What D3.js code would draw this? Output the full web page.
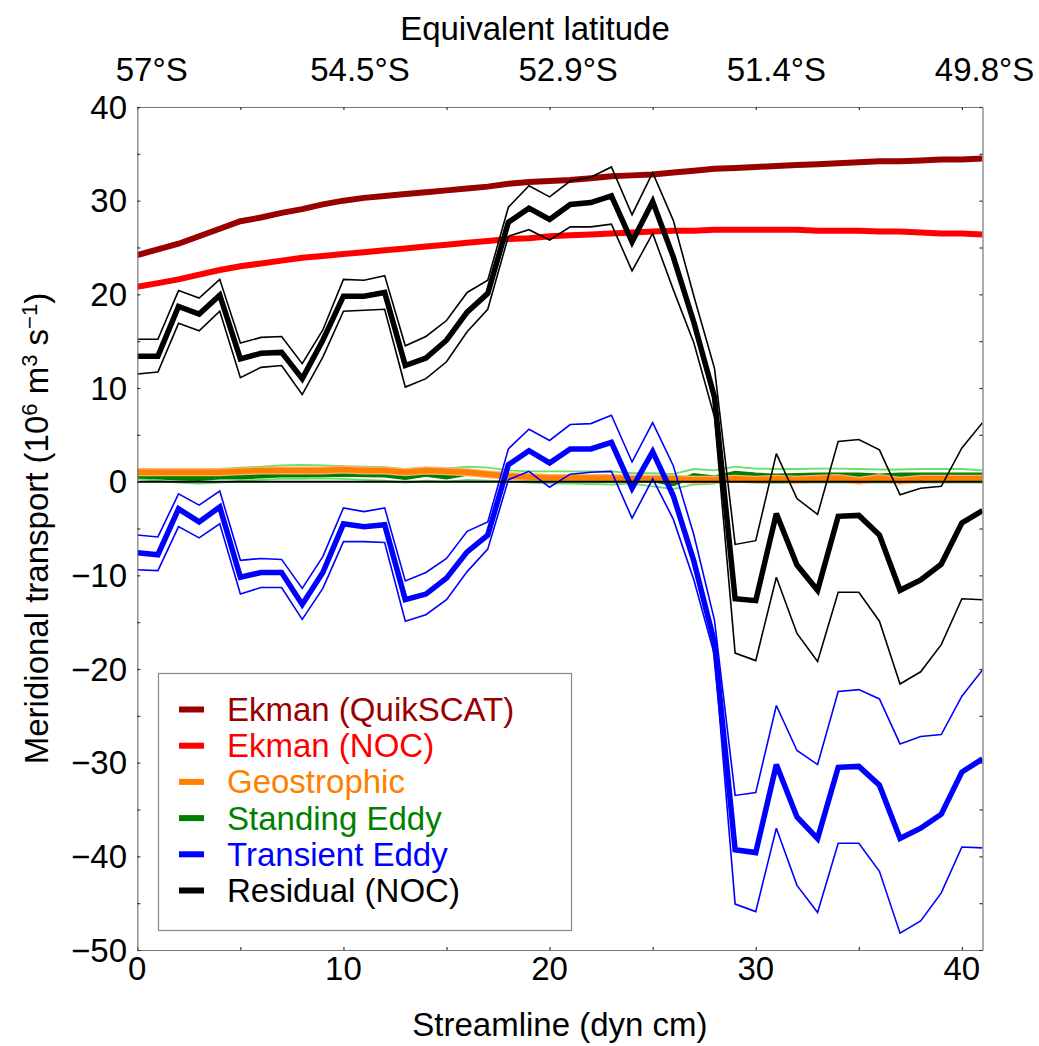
<!DOCTYPE html>
<html><head><meta charset="utf-8">
<script src="https://cdn.jsdelivr.net/npm/d3@7"></script>
<style>
body{margin:0;background:#fff;}
svg text{font-family:"Liberation Sans",Arial,Helvetica,sans-serif;}
</style></head>
<body>
<svg id="chart" width="1039" height="1046"></svg>
<script>
// ---- data (streamline index 0..41) ----
const streamline = d3.range(0, 42);
const ekmanQuikSCAT = [24.2,24.8,25.4,26.2,27.0,27.8,28.2,28.7,29.1,29.6,30.0,30.3,30.5,30.7,30.9,31.1,31.3,31.5,31.8,32.0,32.1,32.2,32.4,32.6,32.7,32.8,33.0,33.2,33.4,33.5,33.6,33.7,33.8,33.9,34.0,34.1,34.2,34.2,34.3,34.4,34.4,34.5];
const ekmanNOC = [20.8,21.2,21.6,22.1,22.6,23.0,23.3,23.6,23.9,24.1,24.3,24.5,24.7,24.9,25.1,25.3,25.5,25.7,25.9,26.0,26.2,26.3,26.4,26.5,26.6,26.7,26.8,26.8,26.9,26.9,26.9,26.9,26.9,26.8,26.8,26.8,26.7,26.7,26.6,26.5,26.5,26.4];
const geostrophic = [1.0,1.0,1.0,1.0,1.0,1.1,1.2,1.2,1.2,1.2,1.3,1.2,1.2,1.0,1.2,1.1,1.0,0.8,0.6,0.5,0.4,0.4,0.4,0.4,0.3,0.3,0.3,0.2,0.2,0.3,0.2,0.3,0.2,0.3,0.4,0.1,0.4,0.1,0.3,0.3,0.3,0.3];
const standingEddy = [0.6,0.5,0.4,0.35,0.5,0.5,0.6,0.7,0.7,0.75,0.8,0.75,0.7,0.45,0.8,0.5,0.9,0.8,0.6,0.4,0.35,0.35,0.3,0.3,0.4,0.2,-0.2,0.65,0.4,0.9,0.7,0.6,0.65,0.7,0.7,0.7,0.6,0.7,0.7,0.7,0.7,0.7];
const standingEddyHi = [1.35,1.3,1.3,1.3,1.35,1.5,1.6,1.75,1.8,1.75,1.65,1.6,1.55,1.35,1.5,1.4,1.6,1.5,1.2,1.1,1.1,1.1,1.1,1.1,0.9,0.9,0.8,1.35,1.2,1.6,1.4,1.35,1.35,1.4,1.4,1.35,1.3,1.3,1.35,1.35,1.35,1.2];
const standingEddyLo = [0.3,0.1,-0.1,-0.2,-0.1,0.1,0.2,0.3,0.3,0.35,0.3,0.2,0.1,-0.1,0.1,0.0,0.2,0.1,0.0,-0.1,-0.2,-0.2,-0.25,-0.3,-0.2,-0.5,-0.8,-0.3,-0.2,0.35,-0.1,-0.15,-0.1,-0.1,-0.1,-0.1,-0.1,-0.1,-0.1,-0.1,-0.1,-0.1];
const transientEddy = [-7.6,-7.8,-2.9,-4.3,-2.7,-10.2,-9.7,-9.7,-13.1,-9.7,-4.5,-4.8,-4.6,-12.6,-12.0,-10.3,-7.5,-5.7,1.8,3.3,2.0,3.5,3.5,4.2,-0.7,3.2,-1.5,-8.5,-17.2,-39.3,-39.6,-30.2,-35.8,-38.1,-30.5,-30.4,-32.4,-38.1,-37.0,-35.5,-31.0,-29.6];
const transientEddyHi = [-5.7,-5.9,-1.3,-2.5,-1.0,-8.4,-8.2,-8.3,-11.4,-8.0,-2.8,-3.2,-2.8,-10.6,-9.7,-8.2,-5.3,-4.3,3.5,5.6,4.4,6.1,6.2,7.1,2.1,6.3,1.7,-5.7,-14.8,-33.5,-33.2,-23.9,-28.7,-30.2,-22.4,-22.2,-23.2,-28.0,-27.2,-27.0,-22.9,-20.1];
const transientEddyLo = [-9.4,-9.5,-4.8,-6.0,-4.5,-12.0,-11.3,-11.3,-14.7,-11.4,-6.4,-6.4,-6.5,-14.9,-14.2,-12.6,-9.6,-7.2,0.2,1.1,-0.6,0.8,1.0,1.1,-3.9,0.3,-4.0,-10.5,-18.5,-45.1,-45.9,-37.0,-43.1,-46.0,-38.6,-38.6,-41.6,-48.2,-46.9,-43.9,-39.0,-39.1];
const residual = [13.4,13.4,18.7,17.9,19.9,13.1,13.7,13.8,11.0,15.1,19.8,19.8,20.2,12.4,13.2,15.1,18.1,20.1,27.7,29.2,28.0,29.6,29.8,30.5,25.6,29.9,24.0,17.0,9.0,-12.5,-12.7,-3.4,-8.9,-11.6,-3.7,-3.6,-5.7,-11.6,-10.5,-8.8,-4.4,-3.1];
const residualHi = [15.2,15.2,20.4,19.6,21.6,14.8,15.4,15.5,12.6,16.2,21.6,21.5,22.0,14.5,15.5,17.2,20.2,21.5,29.3,31.6,30.4,32.1,32.5,33.6,28.5,33.0,27.9,19.8,12.1,-6.7,-6.3,3.0,-1.8,-3.5,4.3,4.5,3.4,-1.4,-0.7,-0.5,3.6,6.3];
const residualLo = [11.5,11.7,16.9,16.1,18.2,11.1,12.2,12.4,9.3,13.3,18.2,18.3,18.4,10.1,11.0,12.8,16.0,18.4,26.2,26.9,25.8,27.2,27.2,27.5,22.5,26.5,20.5,14.8,6.9,-18.3,-19.1,-10.2,-16.2,-19.2,-11.8,-11.8,-14.9,-21.6,-20.3,-17.4,-12.5,-12.6];

const xTicks = [0, 10, 20, 30, 40];
const yTicks = [-50, -40, -30, -20, -10, 0, 10, 20, 30, 40];
const latLabels = ["57°S", "54.5°S", "52.9°S", "51.4°S", "49.8°S"];
const latAt = [0.7, 10.8, 20.9, 31.0, 41.1];

const legendNames = ["Ekman (QuikSCAT)", "Ekman (NOC)", "Geostrophic", "Standing Eddy", "Transient Eddy", "Residual (NOC)"];
const legendColors = ["#990000", "#ff0000", "#ff8000", "#008000", "#0000ff", "#000000"];

// ---- layout ----
const L = 137.3, R = 982.5, T = 107, B = 950;
const x = d3.scaleLinear().domain([0, 41]).range([L, R]);
const y = d3.scaleLinear().domain([-50, 40]).range([B, T]);
const svg = d3.select("#chart");
const FS = 33;

const line = arr => d3.line().x((d, i) => x(streamline[i])).y(d => y(d))(arr);
const plot = svg.append("g");
plot.append("defs").append("clipPath").attr("id", "clip")
  .append("rect").attr("x", L).attr("y", T).attr("width", R - L).attr("height", B - T);
const g = plot.append("g").attr("clip-path", "url(#clip)");

function draw(arr, color, w) {
  g.append("path").attr("d", line(arr)).attr("fill", "none")
    .attr("stroke", color).attr("stroke-width", w).attr("stroke-linejoin", "miter").attr("stroke-miterlimit", 3);
}
draw(standingEddyHi, "#66e066", 1.8);
draw(standingEddyLo, "#66e066", 1.8);
draw(standingEddy, "#008000", 5);
draw(geostrophic, "#ffb070", 8);
draw(geostrophic, "#ff8000", 5.5);
draw(ekmanQuikSCAT, "#990000", 6);
draw(ekmanNOC, "#ff0000", 6);
draw(transientEddyHi, "#0000ff", 1.6);
draw(transientEddyLo, "#0000ff", 1.6);
draw(transientEddy, "#0000ff", 5.5);
draw(residualHi, "#000000", 1.6);
draw(residualLo, "#000000", 1.6);
draw(residual, "#000000", 5.5);
// zero line
g.append("line").attr("x1", L).attr("x2", R).attr("y1", y(0)).attr("y2", y(0))
  .attr("stroke", "#000").attr("stroke-width", 2);

// ---- axes frame & ticks ----
const axColor = "#777";
const mkAxis = (axis, tr) => {
  const a = svg.append("g").attr("transform", tr).call(axis);
  a.select(".domain").attr("stroke", axColor).attr("stroke-width", 1.2);
  a.selectAll(".tick line").attr("stroke", "#333").attr("stroke-width", 1.2);
  a.selectAll("text").remove();
  return a;
};
const minorX = d3.range(0, 42, 5), minorY = d3.range(-50, 41, 5);
mkAxis(d3.axisBottom(x).tickValues(minorX).tickSizeInner(-3).tickSizeOuter(0), `translate(0,${B})`);
mkAxis(d3.axisTop(x).tickValues(minorX).tickSizeInner(-3).tickSizeOuter(0), `translate(0,${T})`);
mkAxis(d3.axisLeft(y).tickValues(minorY).tickSizeInner(-3).tickSizeOuter(0), `translate(${L},0)`);
mkAxis(d3.axisRight(y).tickValues(minorY).tickSizeInner(-3).tickSizeOuter(0), `translate(${R},0)`);

// tick labels
svg.append("g").selectAll("text").data(xTicks).join("text")
  .attr("x", d => x(d)).attr("y", 980).attr("text-anchor", "middle")
  .attr("font-size", FS).text(d => d);
svg.append("g").selectAll("text").data(yTicks).join("text")
  .attr("x", 127).attr("y", d => y(d) + 11.5).attr("text-anchor", "end")
  .attr("font-size", FS).text(d => d < 0 ? "\u2212" + Math.abs(d) : d);
svg.append("g").selectAll("text").data(latLabels).join("text")
  .attr("x", (d, i) => x(latAt[i])).attr("y", 81).attr("text-anchor", "middle")
  .attr("font-size", FS).text(d => d);

// axis titles
svg.append("text").attr("x", 535).attr("y", 40).attr("text-anchor", "middle")
  .attr("font-size", FS).text("Equivalent latitude");
svg.append("text").attr("x", (L + R) / 2).attr("y", 1036).attr("text-anchor", "middle")
  .attr("font-size", FS).text("Streamline (dyn cm)");
const yl = svg.append("text").attr("transform", `translate(48,${(T + B) / 2}) rotate(-90)`)
  .attr("text-anchor", "middle").attr("font-size", FS);
yl.append("tspan").text("Meridional transport (10");
yl.append("tspan").attr("dy", -11).attr("font-size", 22).text("6");
yl.append("tspan").attr("dy", 11).text(" m");
yl.append("tspan").attr("dy", -11).attr("font-size", 22).text("3");
yl.append("tspan").attr("dy", 11).text(" s");
yl.append("tspan").attr("dy", -11).attr("font-size", 22).text("\u22121");
yl.append("tspan").attr("dy", 11).text(")");

// ---- legend ----
const lg = svg.append("g");
lg.append("rect").attr("x", 158.5).attr("y", 673.5).attr("width", 413).attr("height", 257)
  .attr("fill", "#fff").attr("stroke", "#888").attr("stroke-width", 1.2);
const ly = i => 709.5 + i * 36.2;
lg.selectAll("line").data(legendNames).join("line")
  .attr("x1", 179).attr("x2", 204).attr("y1", (d, i) => ly(i)).attr("y2", (d, i) => ly(i))
  .attr("stroke", (d, i) => legendColors[i]).attr("stroke-width", 6);
lg.selectAll("text").data(legendNames).join("text")
  .attr("x", 227).attr("y", (d, i) => ly(i) + 11.5).attr("font-size", FS)
  .attr("fill", (d, i) => legendColors[i]).text(d => d);
</script>
</body></html>
